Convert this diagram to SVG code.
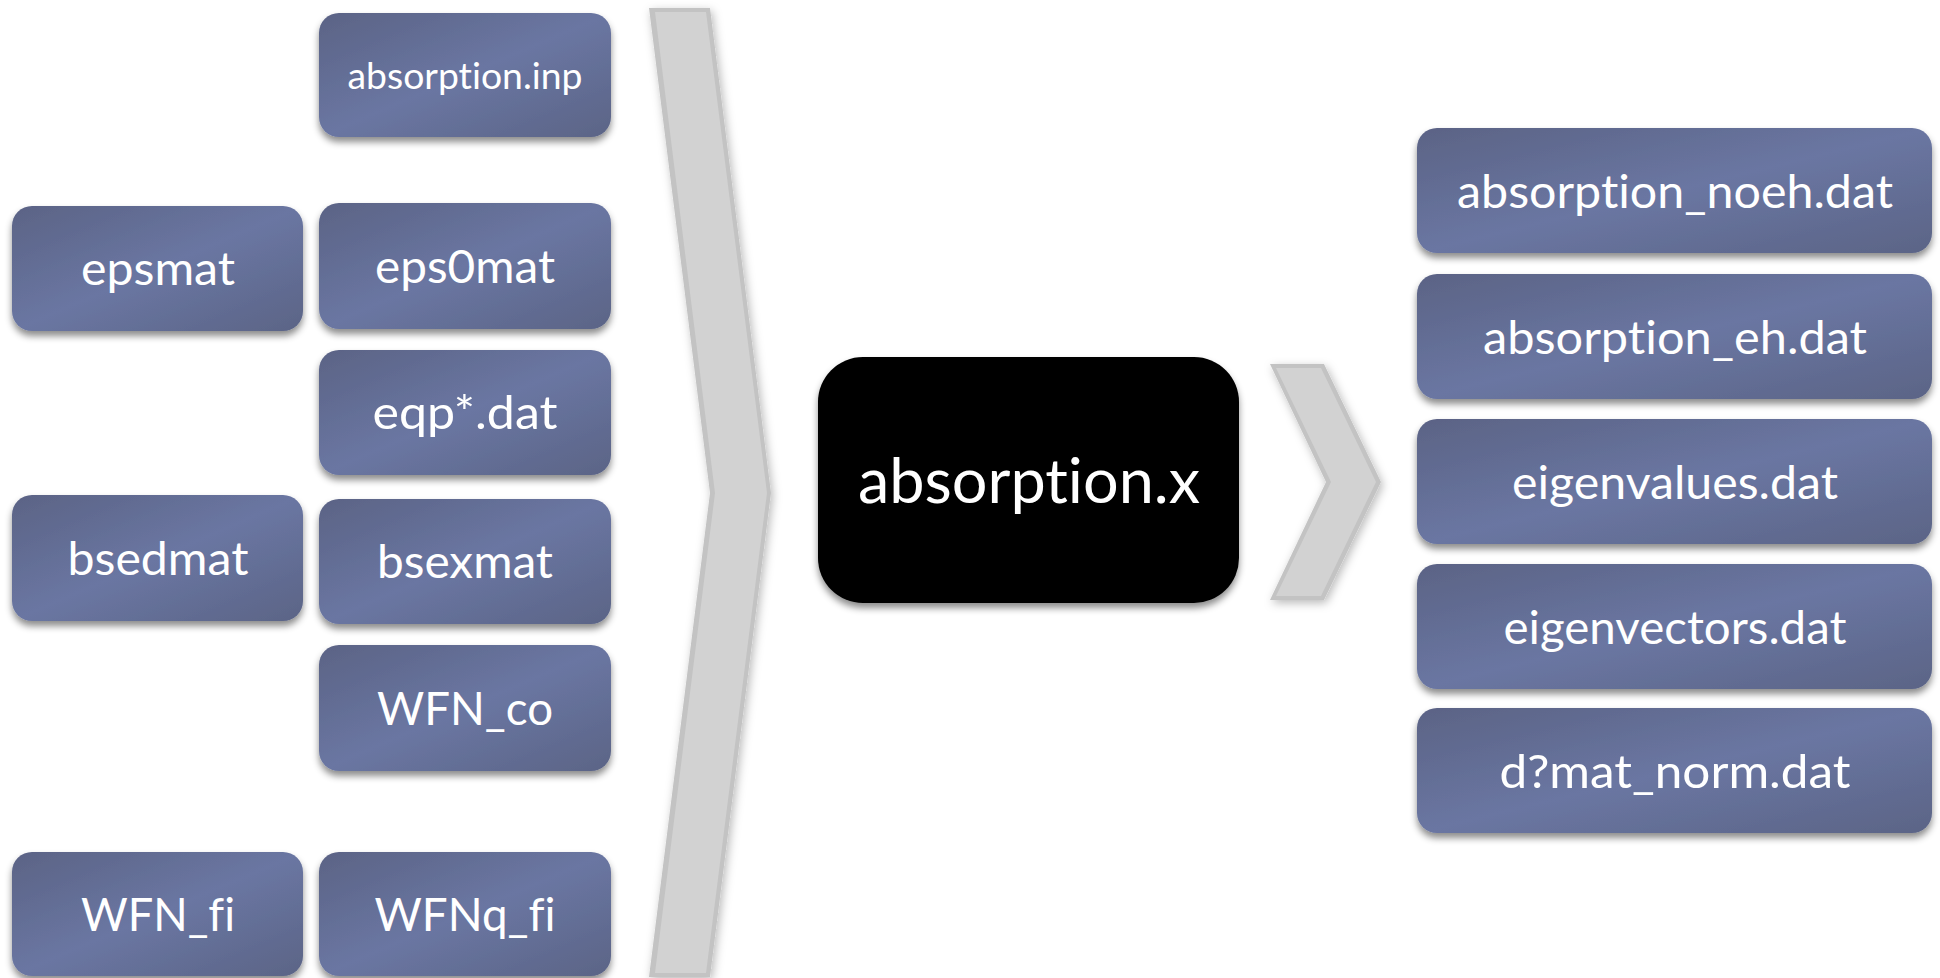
<svg xmlns="http://www.w3.org/2000/svg" width="1940" height="978" viewBox="0 0 1940 978">
<defs>
<linearGradient id="boxGrad" x1="0" y1="0" x2="1" y2="1">
<stop offset="0" stop-color="#5b6385"/>
<stop offset="0.5" stop-color="#6a76a2"/>
<stop offset="1" stop-color="#5b6486"/>
</linearGradient>
<filter id="shadow" x="-10%" y="-10%" width="120%" height="130%">
<feDropShadow dx="0" dy="5" stdDeviation="3.5" flood-color="#000" flood-opacity="0.45"/>
</filter>
<filter id="chevShadow" x="-20%" y="-10%" width="140%" height="120%">
<feDropShadow dx="2" dy="3" stdDeviation="5" flood-color="#000" flood-opacity="0.28"/>
</filter>
<style>
.box{fill:url(#boxGrad);filter:url(#shadow);}
.lbl{fill:#ffffff;font-family:Lato,"Liberation Sans",sans-serif;font-size:47px;text-anchor:middle;font-variant-ligatures:none;font-feature-settings:"liga" 0,"clig" 0,"dlig" 0;}
.small{font-size:37px;}
.big{font-size:62px;}
.chevOuter{fill:#c3c3c3;filter:url(#chevShadow);}
.chevInner{fill:#d2d2d2;}
</style>
</defs>

<g id="connectors">
<g id="bigChevron">
<polygon class="chevOuter" points="649,8 710,8 771,493 710,977 649,977 710,493"/>
<polygon class="chevInner" points="655,12 706,12 767,493 706,973 655,973 715,493"/>
</g>
<g id="smallChevron">
<polygon class="chevOuter" points="1270,364 1324,364 1381,482 1324,600 1270,600 1326,482"/>
<polygon class="chevInner" points="1276,368 1321,368 1376,482 1321,596 1276,596 1331,482"/>
</g>
</g>

<g id="node-absorption-inp">
<rect class="box" x="319" y="13" width="292" height="124" rx="20"/>
<text class="lbl small" x="465" y="89" textLength="235" lengthAdjust="spacingAndGlyphs">absorption.inp</text>
</g>
<g id="node-epsmat">
<rect class="box" x="12" y="206" width="291" height="125" rx="20"/>
<text class="lbl" x="158" y="285" textLength="154" lengthAdjust="spacingAndGlyphs">epsmat</text>
</g>
<g id="node-eps0mat">
<rect class="box" x="319" y="203" width="292" height="126" rx="20"/>
<text class="lbl" x="465" y="283" textLength="180" lengthAdjust="spacingAndGlyphs">eps0mat</text>
</g>
<g id="node-eqp">
<rect class="box" x="319" y="350" width="292" height="125" rx="20"/>
<text class="lbl" x="465" y="429" textLength="185" lengthAdjust="spacingAndGlyphs">eqp*.dat</text>
</g>
<g id="node-bsedmat">
<rect class="box" x="12" y="495" width="291" height="126" rx="20"/>
<text class="lbl" x="158" y="575" textLength="181" lengthAdjust="spacingAndGlyphs">bsedmat</text>
</g>
<g id="node-bsexmat">
<rect class="box" x="319" y="499" width="292" height="125" rx="20"/>
<text class="lbl" x="465" y="578" textLength="176" lengthAdjust="spacingAndGlyphs">bsexmat</text>
</g>
<g id="node-wfn-co">
<rect class="box" x="319" y="645" width="292" height="126" rx="20"/>
<text class="lbl" x="465" y="725" textLength="176" lengthAdjust="spacingAndGlyphs">WFN_co</text>
</g>
<g id="node-wfn-fi">
<rect class="box" x="12" y="852" width="291" height="124" rx="20"/>
<text class="lbl" x="158" y="931" textLength="154" lengthAdjust="spacingAndGlyphs">WFN_fi</text>
</g>
<g id="node-wfnq-fi">
<rect class="box" x="319" y="852" width="292" height="124" rx="20"/>
<text class="lbl" x="465" y="931" textLength="181" lengthAdjust="spacingAndGlyphs">WFNq_fi</text>
</g>

<g id="node-absorption-x">
<rect x="818" y="357" width="421" height="246" rx="45" fill="#000" filter="url(#shadow)"/>
<text class="lbl big" x="1029" y="503" textLength="342" lengthAdjust="spacingAndGlyphs">absorption.x</text>
</g>

<g id="node-absorption-noeh">
<rect class="box" x="1417" y="128" width="515" height="125" rx="20"/>
<text class="lbl" x="1675" y="208" textLength="436" lengthAdjust="spacingAndGlyphs">absorption_noeh.dat</text>
</g>
<g id="node-absorption-eh">
<rect class="box" x="1417" y="274" width="515" height="125" rx="20"/>
<text class="lbl" x="1675" y="354" textLength="384" lengthAdjust="spacingAndGlyphs">absorption_eh.dat</text>
</g>
<g id="node-eigenvalues">
<rect class="box" x="1417" y="419" width="515" height="125" rx="20"/>
<text class="lbl" x="1675" y="499" textLength="326" lengthAdjust="spacingAndGlyphs">eigenvalues.dat</text>
</g>
<g id="node-eigenvectors">
<rect class="box" x="1417" y="564" width="515" height="125" rx="20"/>
<text class="lbl" x="1675" y="644" textLength="343" lengthAdjust="spacingAndGlyphs">eigenvectors.dat</text>
</g>
<g id="node-dmat-norm">
<rect class="box" x="1417" y="708" width="515" height="125" rx="20"/>
<text class="lbl" x="1675" y="788" textLength="351" lengthAdjust="spacingAndGlyphs">d?mat_norm.dat</text>
</g>
</svg>
